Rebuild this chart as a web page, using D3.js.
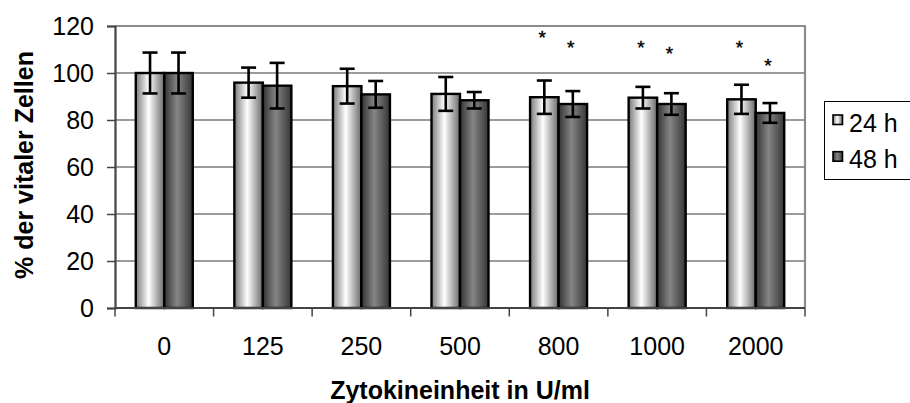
<!DOCTYPE html>
<html>
<head>
<meta charset="utf-8">
<script src="https://cdn.jsdelivr.net/npm/d3@7"></script>
<style>
html,body{margin:0;padding:0;background:#fff;}
svg{display:block;font-family:"Liberation Sans",Arial,sans-serif;}
</style>
</head>
<body>
<svg id="chart" width="910" height="403"></svg>
<script>
const categories = ["0","125","250","500","800","1000","2000"];
const seriesNames = ["24 h","48 h"];
const values24 = [100, 95.9, 94.4, 91.1, 89.7, 89.5, 88.8];
const values48 = [100, 94.6, 90.9, 88.4, 86.8, 86.8, 83.0];
const err24 = [8.7, 6.4, 7.4, 7.2, 7.1, 4.6, 6.2];
const err48 = [8.7, 9.7, 5.7, 3.5, 5.5, 4.6, 4.2];
const star24 = [null, null, null, null, 116.6, 112.6, 112.6];
const star48 = [null, null, null, null, 112.6, 110.0, 105.0];
const yTicks = [0, 20, 40, 60, 80, 100, 120];

const svg = d3.select("#chart");
const L = 115, R = 805, T = 26, B = 308;

const defs = svg.append("defs");
const g1 = defs.append("linearGradient").attr("id","grad24").attr("x1","0").attr("x2","1").attr("y1","0").attr("y2","0");
[[0,"#7a7a7a"],[0.45,"#ffffff"],[1,"#6a6a6a"]].forEach(s=>g1.append("stop").attr("offset",s[0]).attr("stop-color",s[1]));
const g2 = defs.append("linearGradient").attr("id","grad48").attr("x1","0").attr("x2","1").attr("y1","0").attr("y2","0");
[[0,"#333333"],[0.45,"#858585"],[1,"#363636"]].forEach(s=>g2.append("stop").attr("offset",s[0]).attr("stop-color",s[1]));
const fills = {"24 h":"url(#grad24)","48 h":"url(#grad48)"};

const x = d3.scaleBand().domain(categories).range([L, R]).paddingInner(0).paddingOuter(0);
const xs = d3.scaleBand().domain(seriesNames).range([0, x.bandwidth()]).paddingInner(0).paddingOuter(0.729);
const y = d3.scaleLinear().domain([0, 120]).range([B, T]);

// gridlines
svg.append("g").selectAll("line").data(yTicks.filter(d=>d>0 && d<120)).join("line")
  .attr("x1", L).attr("x2", R).attr("y1", d=>y(d)).attr("y2", d=>y(d))
  .attr("stroke", "#7a7a7a").attr("stroke-width", 1.3);
// top and right border
svg.append("line").attr("x1",L).attr("x2",R+1).attr("y1",y(120)).attr("y2",y(120)).attr("stroke","#8c8c8c").attr("stroke-width",2.2);
svg.append("line").attr("x1",R).attr("x2",R).attr("y1",y(120)).attr("y2",B).attr("stroke","#8c8c8c").attr("stroke-width",2.2);

const data = [];
categories.forEach((c,i)=>{
  data.push({cat:c, s:"24 h", v:values24[i], e:err24[i], star:star24[i]});
  data.push({cat:c, s:"48 h", v:values48[i], e:err48[i], star:star48[i]});
});

// bars
svg.append("g").selectAll("rect").data(data).join("rect")
  .attr("x", d=>x(d.cat)+xs(d.s))
  .attr("width", xs.bandwidth())
  .attr("y", d=>y(d.v))
  .attr("height", d=>y(0)-y(d.v))
  .attr("fill", d=>fills[d.s])
  .attr("stroke", "#000").attr("stroke-width", 2.4);

// error bars
const eg = svg.append("g").attr("stroke","#000").attr("stroke-width",2.6);
data.forEach(d=>{
  const cx = x(d.cat)+xs(d.s)+xs.bandwidth()/2;
  eg.append("line").attr("x1",cx).attr("x2",cx).attr("y1",y(d.v+d.e)).attr("y2",y(d.v-d.e));
  [d.v+d.e, d.v-d.e].forEach(v=>{
    eg.append("line").attr("x1",cx-7.5).attr("x2",cx+7.5).attr("y1",y(v)).attr("y2",y(v));
  });
});

// stars
svg.append("g").selectAll("text").data(data.filter(d=>d.star!=null)).join("text")
  .attr("x", d=>x(d.cat)+xs(d.s)+xs.bandwidth()/2-2)
  .attr("y", d=>y(d.star)+10.5)
  .attr("text-anchor","middle")
  .attr("font-size",19).attr("fill","#000").attr("stroke","#000").attr("stroke-width",0.4)
  .text("*");

// y axis
const yAxis = d3.axisLeft(y).tickValues(yTicks).tickSize(8).tickPadding(13);
const ya = svg.append("g").attr("transform",`translate(${L},0)`).call(yAxis);
ya.select(".domain").attr("stroke","#444").attr("stroke-width",2.2);
ya.selectAll(".tick line").attr("stroke","#444").attr("stroke-width",1.5);
ya.selectAll(".tick text").attr("font-size",25).attr("fill","#000").attr("font-family","Liberation Sans, Arial, sans-serif");

// x axis
const xa = svg.append("g").attr("transform",`translate(0,${B})`);
xa.append("line").attr("x1",L).attr("x2",R).attr("y1",0).attr("y2",0).attr("stroke","#444").attr("stroke-width",2.2);
const xBounds = categories.map(c=>x(c)).concat([R]);
xa.selectAll("line.tk").data(xBounds).join("line").attr("class","tk")
  .attr("x1",d=>d).attr("x2",d=>d).attr("y1",0).attr("y2",8.5).attr("stroke","#444").attr("stroke-width",1.5);
xa.selectAll("text").data(categories).join("text")
  .attr("x", d=>x(d)+x.bandwidth()/2).attr("y", 47)
  .attr("text-anchor","middle").attr("font-size",25).attr("fill","#000")
  .text(d=>d);

// axis titles
svg.append("text").attr("x",(L+R)/2).attr("y",399).attr("text-anchor","middle")
  .attr("font-size",25).attr("font-weight","bold").attr("fill","#000")
  .text("Zytokineinheit in U/ml");
svg.append("text").attr("transform","translate(33,165) rotate(-90)").attr("text-anchor","middle")
  .attr("font-size",25).attr("font-weight","bold").attr("fill","#000")
  .text("% der vitaler Zellen");

// legend
const lg = svg.append("g");
lg.append("rect").attr("x",824.5).attr("y",101.5).attr("width",100).attr("height",78)
  .attr("fill","#fff").attr("stroke","#000").attr("stroke-width",1);
const legY = [115, 151.7];
seriesNames.forEach((s,i)=>{
  lg.append("rect").attr("x",833).attr("y",legY[i]).attr("width",9.5).attr("height",9.5)
    .attr("fill",fills[s]).attr("stroke","#000").attr("stroke-width",1.6);
  lg.append("text").attr("x",849).attr("y",legY[i]+16.5).attr("font-size",25).attr("fill","#000").text(s);
});
</script>
</body>
</html>
